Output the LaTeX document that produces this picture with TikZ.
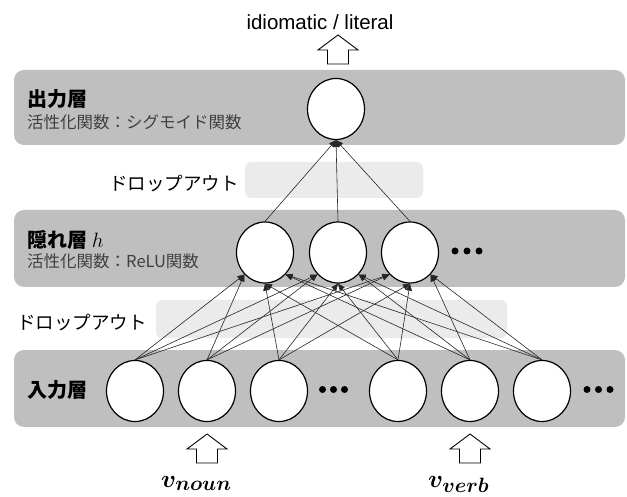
\documentclass[tikz,border=0pt]{standalone}
\usepackage{amsmath}
\usepackage{bm}
\usepackage{fontspec}
\setmainfont{Liberation Sans}
\newfontfamily\jp{Noto Sans CJK JP}
\usetikzlibrary{shapes.geometric,arrows.meta}
\definecolor{bandgray}{HTML}{BFBFBF}
\definecolor{lightband}{HTML}{EBEBEB}
\definecolor{subgray}{HTML}{404040}
\begin{document}
\begin{tikzpicture}[x=1pt,y=-1pt,
  band/.style={fill=bandgray, draw=none, rounded corners=10pt},
  dropband/.style={fill=lightband, draw=none, rounded corners=6pt},
  neuron/.style={ellipse, draw=black, line width=1.2pt, fill=white, minimum width=57pt, minimum height=61pt, inner sep=0pt},
  conn/.style={draw=black!85, line width=0.6pt, -{Triangle[length=7pt,width=6pt]}},
  title/.style={font=\jp\bfseries\fontsize{20}{24}\selectfont, anchor=west, inner sep=0pt},
  subtitle/.style={font=\jp\fontsize{16.5}{20}\selectfont, text=subgray, anchor=west, inner sep=0pt},
  droptext/.style={font=\jp\fontsize{18.5}{22}\selectfont, anchor=west, inner sep=0pt},
  dotnode/.style={circle, fill=black, minimum size=7pt, inner sep=0pt},
  bigarrow/.style={draw=black, line width=0.9pt, fill=white, line join=miter},
  uparrow/.pic={\draw[bigarrow] (0,0) -- (20,15) -- (10.5,15) -- (10.5,29) -- (-10.5,29) -- (-10.5,15) -- (-20,15) -- cycle;},
  vlabel/.style={font=\fontsize{29}{32}\selectfont, anchor=base west, inner sep=0pt}
]
\useasboundingbox (0,0) rectangle (627,497);

% bands
\path[band] (14,70) rectangle (625,145);
\path[band] (14,210) rectangle (625,287);
\path[band] (14,350) rectangle (625,427);
\path[dropband] (245,162) rectangle (423,198);
\path[dropband] (156,300) rectangle (507,338);

% texts
\node[font=\fontsize{20.5}{24}\selectfont, anchor=base, inner sep=0pt] (res) at (320,30) {idiomatic / literal};
\node[title] (t-out) at (27,99) {出力層};
\node[subtitle] (s-out) at (27,122) {活性化関数：シグモイド関数};
\node[title] (t-hid) at (27,240) {隠れ層 $h$};
\node[subtitle] (s-hid) at (27,261) {活性化関数：ReLU関数};
\node[title] (t-in) at (27,390) {入力層};
\node[droptext] (d1) at (109,184) {ドロップアウト};
\node[droptext] (d2) at (17,323) {ドロップアウト};

% neurons
\node[neuron] (o) at (336,109) {};
\node[neuron] (h1) at (265,252.5) {};
\node[neuron] (h2) at (338,252.5) {};
\node[neuron] (h3) at (410,252.5) {};
\node[neuron] (i1) at (135,391) {};
\node[neuron] (i2) at (207,391) {};
\node[neuron] (i3) at (279,391) {};
\node[neuron] (i4) at (398,391) {};
\node[neuron] (i5) at (470,391) {};
\node[neuron] (i6) at (542,391) {};

% dots
\foreach \x/\n in {455/a,467/b,479/c} \node[dotnode] (hd\n) at (\x,251) {};
\foreach \x/\n in {322.5/a,333.5/b,344.5/c} \node[dotnode] (id\n) at (\x,389.5) {};
\foreach \x/\n in {587/a,598.5/b,610/c} \node[dotnode] (je\n) at (\x,389.5) {};

% connections
\foreach \h in {h1,h2,h3} {
  \draw[conn] (i1.north) -- (\h.south west);
  \draw[conn] (i2.north) -- (\h.south west);
  \draw[conn] (i3.north) -- (\h.south);
  \draw[conn] (i4.north) -- (\h.south);
  \draw[conn] (i5.north) -- (\h.south east);
  \draw[conn] (i6.north) -- (\h.south east);
  \draw[conn] (\h.north) -- (o.south);
}

% block arrows
\pic at (338,35) {uparrow};
\pic at (207,434) {uparrow};
\pic at (470,434) {uparrow};

% input labels
\node[vlabel] (vn) at (161,487) {$\bm{v}_{\mbox{\fontsize{21}{21}\selectfont$\bm{noun}$}}$};
\node[vlabel] (vv) at (428,487) {$\bm{v}_{\mbox{\fontsize{21}{21}\selectfont$\bm{verb}$}}$};
\end{tikzpicture}
\end{document}
